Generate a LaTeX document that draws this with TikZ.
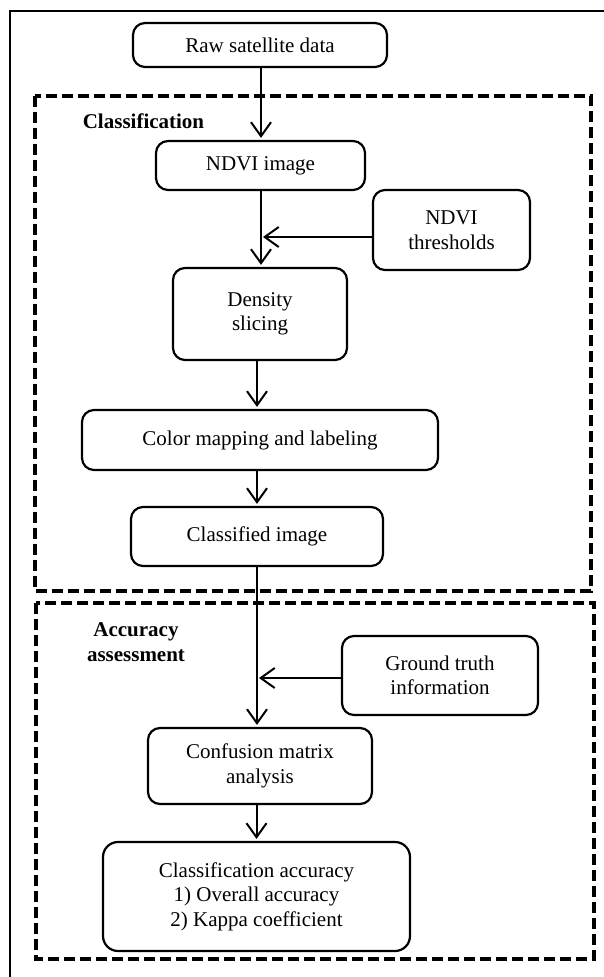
\documentclass[tikz,border=0pt]{standalone}
\usepackage{fontspec}
\setmainfont{Liberation Serif}
\usetikzlibrary{arrows.meta}
\begin{document}
\begin{tikzpicture}[x=1pt,y=-1pt,
  box/.style={draw, line width=2.2pt, rounded corners=12pt, align=center, inner sep=0pt,
    font=\fontsize{21}{24.5}\selectfont},
  lbl/.style={font=\fontsize{21}{24.5}\selectfont\bfseries, align=center, inner sep=0pt},
  grp/.style={draw, line width=3.2pt, dash pattern=on 11pt off 5pt},
  arr/.style={line width=2pt, -{Straight Barb[length=14pt,width=20pt]}, shorten >=2pt},
  frame/.style={draw, line width=1.3pt}]
\useasboundingbox (0,0) rectangle (604,977);
\clip (0,0) rectangle (604,977);
% outer frame (cropped on right and bottom)
\draw[frame] (10,995) -- (10,11) -- (620,11);
% group boxes
\draw[grp] (35,96) rectangle (591,591);
\draw[grp] (36,603) rectangle (594,959);
% labels
\node[lbl] (lcls) at (143.5,121) {Classification};
\node[lbl] (lacc) at (136,642) {Accuracy\\assessment};
% nodes
\node[box, minimum width=254pt, minimum height=44pt] (raw) at (260,45) {Raw satellite data};
\node[box, minimum width=209pt, minimum height=49pt] (ndvi) at (260.5,165.5) {NDVI image};
\node[box, minimum width=157pt, minimum height=80pt] (thr) at (451.5,230) {NDVI\\thresholds};
\node[box, minimum width=174pt, minimum height=92pt] (dens) at (260,314) {Density\\slicing};
\node[box, minimum width=356pt, minimum height=60pt] (col) at (260,440) {Color mapping and labeling};
\node[box, minimum width=252pt, minimum height=59pt] (cls) at (257,536.5) {Classified image};
\node[box, minimum width=196pt, minimum height=79pt] (gt) at (440,675.5) {Ground truth\\information};
\node[box, minimum width=224pt, minimum height=76pt] (conf) at (260,766) {Confusion matrix\\analysis};
\node[box, minimum width=307pt, minimum height=109pt, rounded corners=15pt] (fin) at (256.5,896.5) {Classification accuracy\\1) Overall accuracy\\2) Kappa coefficient};
% junction points
\coordinate (j1) at (261,237);
\coordinate (j2) at (257,678);
% connectors
\draw[arr] (raw.south -| 261,0) -- (ndvi.north -| 261,0);
\draw[arr] (ndvi.south -| j1) -- (dens.north -| j1);
\draw[arr] (thr.west |- j1) -- (j1);
\draw[arr] (cls.north |- dens.south) -- (cls.north |- col.north);
\draw[arr] (col.south -| cls.north) -- (cls.north);
\draw[arr] (cls.south) -- (cls.south |- conf.north);
\draw[arr] (gt.west |- j2) -- (j2);
\draw[arr] (fin.north |- conf.south) -- (fin.north);
\end{tikzpicture}
\end{document}
